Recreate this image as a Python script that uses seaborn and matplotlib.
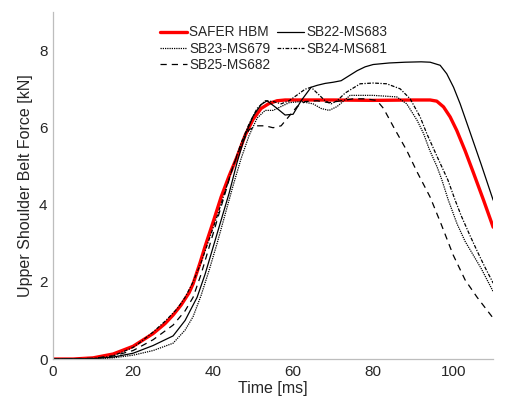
import numpy as np
import pandas as pd
import matplotlib
matplotlib.use("Agg")
import matplotlib.pyplot as plt
import seaborn as sns

# curves (time in ms, force in kN)
t_hbm = [0, 5, 10, 15, 20, 25, 28, 30, 32, 34, 35, 36.75, 38, 40, 42, 44, 46, 48, 50, 52, 54, 56, 58,
         70, 80, 90, 94.25, 95.9, 97.6, 99.25, 100.9, 103, 105, 107.6, 110]
f_hbm = [0, 0, 0.03, 0.13, 0.33, 0.66, 0.92, 1.14, 1.4, 1.72, 1.95, 2.5, 2.92, 3.55, 4.2, 4.75, 5.25, 5.8, 6.22, 6.5, 6.63, 6.7, 6.72,
         6.72, 6.71, 6.72, 6.72, 6.69, 6.54, 6.28, 5.93, 5.4, 4.85, 4.12, 3.42]

t_sb22 = [0, 10, 15, 20, 25, 30, 33, 36, 38, 40, 42, 44, 46, 48, 50, 52, 53.5, 56, 58, 60, 62, 64.5,
          66, 68, 70, 72, 74, 76, 78, 80, 84, 88, 92, 94.25, 96.75, 98.4, 100.1, 101.75, 104, 107, 110]
f_sb22 = [0, 0.01, 0.05, 0.15, 0.35, 0.6, 1.0, 1.6, 2.2, 2.9, 3.6, 4.3, 5.1, 5.8, 6.3, 6.6, 6.7, 6.5, 6.33, 6.35, 6.7, 7.05,
          7.1, 7.15, 7.18, 7.22, 7.35, 7.48, 7.58, 7.64, 7.68, 7.7, 7.71, 7.7, 7.62, 7.4, 7.05, 6.62, 5.95, 5.05, 4.12]

t_sb23 = [0, 10, 15, 20, 25, 30, 33, 35, 37, 39, 41, 43, 45, 47, 49, 51, 53, 55, 57, 59, 62, 65, 67, 69,
          71, 74.25, 80, 85.9, 88.4, 91, 92.6, 94, 96, 97.2, 98.8, 101, 103, 105, 107, 109, 110]
f_sb23 = [0, 0.0, 0.03, 0.1, 0.22, 0.41, 0.75, 1.1, 1.65, 2.3, 3.0, 3.75, 4.5, 5.2, 5.8, 6.25, 6.45, 6.45, 6.55, 6.65, 6.68, 6.62, 6.5, 6.45,
          6.55, 6.84, 6.84, 6.8, 6.62, 6.19, 5.85, 5.45, 4.98, 4.64, 4.12, 3.5, 3.05, 2.7, 2.35, 1.95, 1.75]

t_sb24 = [0, 10, 15, 20, 22, 25, 28, 31, 33, 35, 37, 39, 41, 43, 45, 47, 49, 51, 53, 55, 57, 59, 61, 63, 64.5,
          66, 68, 69.5, 71, 73, 76.75, 80, 83.4, 86.75, 89.25, 91.75, 93.4, 96, 98.7, 100.5, 102, 104, 106, 108, 110]
f_sb24 = [0, 0.01, 0.08, 0.3, 0.45, 0.7, 0.98, 1.3, 1.6, 2.0, 2.5, 3.1, 3.7, 4.35, 5.0, 5.6, 6.1, 6.5, 6.7, 6.68, 6.62, 6.7, 6.85, 7.0, 7.05,
          6.9, 6.7, 6.62, 6.7, 6.9, 7.14, 7.16, 7.14, 7.01, 6.75, 6.28, 5.85, 5.25, 4.64, 4.12, 3.72, 3.25, 2.8, 2.37, 1.97]

t_sb25 = [0, 10, 15, 20, 25, 30, 33, 35, 37, 39, 41, 43, 45, 47, 49, 51, 53, 55, 57, 59, 61, 63, 66, 69,
          72, 75, 78, 80.9, 82.6, 85.1, 88.4, 91, 94.25, 97, 100, 103, 106, 110]
f_sb25 = [0, 0.02, 0.08, 0.22, 0.5, 0.88, 1.25, 1.6, 2.2, 2.9, 3.6, 4.3, 5.0, 5.55, 5.95, 6.05, 6.05, 6.0, 6.05, 6.3, 6.55, 6.68, 6.7, 6.65,
          6.7, 6.75, 6.75, 6.71, 6.5, 6.02, 5.41, 4.85, 4.2, 3.5, 2.7, 2.05, 1.6, 1.06]

x_ticks = [0, 20, 40, 60, 80, 100]
y_ticks = [0, 2, 4, 6, 8]

sns.set_style("white")
plt.rcParams['font.family'] = ['Liberation Sans', 'DejaVu Sans']

fig = plt.figure(figsize=(5.1, 4.17), dpi=100)
ax = fig.add_axes([0.104, 0.139, 0.863, 0.832])

txt = '#262626'
grey = '#bdbdbd'

sns.lineplot(x=t_hbm, y=f_hbm, ax=ax, color='#ff0000', linewidth=2.4, label='SAFER HBM', zorder=1)
sns.lineplot(x=t_sb22, y=f_sb22, ax=ax, color='black', linewidth=0.9, linestyle='-', label='SB22-MS683', zorder=2)
sns.lineplot(x=t_sb23, y=f_sb23, ax=ax, color='black', linewidth=0.9, linestyle=(0, (1, 0.8)), label='SB23-MS679', zorder=2)
sns.lineplot(x=t_sb24, y=f_sb24, ax=ax, color='black', linewidth=0.9, linestyle=(0, (3, 1.2, 1, 1.2)), label='SB24-MS681', zorder=2)
sns.lineplot(x=t_sb25, y=f_sb25, ax=ax, color='black', linewidth=0.9, linestyle=(0, (5, 4)), label='SB25-MS682', zorder=2)

ax.set_xlim(0, 110)
ax.set_ylim(0, 9)
ax.set_xticks(x_ticks)
ax.set_yticks(y_ticks)
ax.tick_params(direction='in', length=3, width=0.8, color=grey, labelcolor=txt, labelsize=11, pad=4)
for side in ['top', 'right']:
    ax.spines[side].set_visible(False)
for side in ['left', 'bottom']:
    ax.spines[side].set_color(grey)
    ax.spines[side].set_linewidth(0.9)

ax.set_xlabel('Time [ms]', fontsize=11.5, color=txt, labelpad=2)
ax.set_ylabel('Upper Shoulder Belt Force [kN]', fontsize=11.5, color=txt, labelpad=4)

handles, labels = ax.get_legend_handles_labels()
order = [0, 2, 4, 1, 3]
leg = ax.legend([handles[i] for i in order], [labels[i] for i in order], ncol=2,
                loc='upper left', bbox_to_anchor=(0.243, 0.962), frameon=False,
                fontsize=9.8, handlelength=1.95, handletextpad=0.2, columnspacing=0.5,
                labelspacing=0.18, borderaxespad=0, borderpad=0)
for t in leg.get_texts():
    t.set_color(txt)

fig.savefig('out.png', dpi=100)
